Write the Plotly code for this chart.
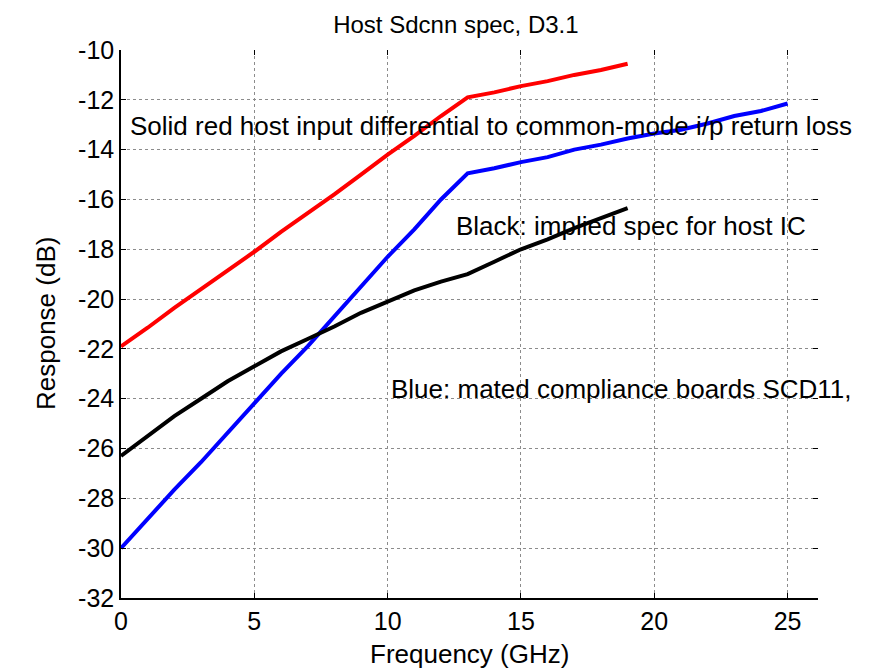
import plotly.graph_objects as go

# Frequencies (GHz)
freq_red = [0, 1, 2, 3, 4, 5, 6, 7, 8, 9, 10, 11, 12, 13, 14, 15, 16, 17, 18, 19]
red_db = [-21.9, -21.15, -20.35, -19.6, -18.85, -18.1, -17.3, -16.55, -15.8, -15.0,
          -14.2, -13.45, -12.65, -11.9, -11.7, -11.45, -11.25, -11.0, -10.8, -10.55]

freq_blue = list(range(0, 26))
blue_db = [-30.0, -28.8, -27.65, -26.55, -25.35, -24.2, -23.0, -21.9, -20.7, -19.5,
           -18.3, -17.2, -16.0, -14.95, -14.75, -14.5, -14.3, -14.0, -13.8, -13.55,
           -13.35, -13.2, -12.95, -12.65, -12.45, -12.15]

freq_black = [0, 1, 2, 3, 4, 5, 6, 7, 8, 9, 10, 11, 12, 13, 14, 15, 16, 17, 18, 19]
black_db = [-26.3, -25.5, -24.7, -24.0, -23.3, -22.7, -22.1, -21.6, -21.1, -20.55,
            -20.1, -19.65, -19.3, -19.0, -18.5, -18.0, -17.6, -17.15, -16.75, -16.35]

x_ticks = [0, 5, 10, 15, 20, 25]
x_ticktext = ["0", "5", "10", "15", "20", "25"]
y_ticks = [-32, -30, -28, -26, -24, -22, -20, -18, -16, -14, -12, -10]
y_ticktext = ["-32", "-30", "-28", "-26", "-24", "-22", "-20", "-18", "-16", "-14", "-12", "-10"]

title = "Host Sdcnn spec, D3.1"
x_label = "Frequency (GHz)"
y_label = "Response (dB)"
notes = [
    ("Solid red host input differential to common-mode i/p return loss", 0.25, -13.05),
    ("Black: implied spec for host IC", 12.5, -17.05),
    ("Blue: mated compliance boards SCD11,", 10.05, -23.6),
]

FONT = "Liberation Sans, Arial, sans-serif"
fig = go.Figure()
fig.add_trace(go.Scatter(x=freq_red, y=red_db, mode="lines",
                         line=dict(color="#ff0000", width=4), showlegend=False))
fig.add_trace(go.Scatter(x=freq_blue, y=blue_db, mode="lines",
                         line=dict(color="#0000ff", width=4), showlegend=False))
fig.add_trace(go.Scatter(x=freq_black, y=black_db, mode="lines",
                         line=dict(color="#000000", width=4), showlegend=False))

for txt, x, y in notes:
    fig.add_annotation(x=x, y=y, text=txt, showarrow=False, xanchor="left",
                       yanchor="middle", font=dict(family=FONT, size=26, color="black"))

# axis titles placed as annotations for precise positioning
fig.add_annotation(xref="paper", yref="paper", x=0.5, y=0, yshift=-56,
                   xanchor="center", yanchor="middle", text=x_label, showarrow=False,
                   font=dict(family=FONT, size=26, color="black"))
fig.add_annotation(xref="paper", yref="paper", x=0, y=0.5, xshift=-75,
                   xanchor="center", yanchor="middle", text=y_label, showarrow=False,
                   textangle=-90, font=dict(family=FONT, size=26, color="black"))

xr = [0, 26.14]
yr = [-32, -10]
axis_common = dict(ticks="inside", ticklen=5, tickwidth=1, tickcolor="black",
                   showgrid=True, gridcolor="#8c8c8c", griddash="dot", gridwidth=1,
                   zeroline=False, tickfont=dict(family=FONT, size=25, color="black"))

fig.update_layout(
    width=880, height=670,
    paper_bgcolor="white", plot_bgcolor="white",
    margin=dict(l=113, r=70, t=42, b=80),
    title=dict(text=title, x=0.509, xanchor="center", y=0.988, yanchor="top",
               font=dict(family=FONT, size=24, color="black")),
    xaxis=dict(range=xr, tickvals=x_ticks, ticktext=x_ticktext, showline=True,
               linecolor="black", linewidth=1.5, **axis_common),
    yaxis=dict(range=yr, tickvals=y_ticks, ticktext=y_ticktext, showline=True,
               linecolor="black", linewidth=1.5, **axis_common),
    xaxis2=dict(range=xr, tickvals=x_ticks, overlaying="x", side="top", showline=False,
                showticklabels=False, ticks="inside", ticklen=5, tickcolor="black",
                showgrid=False, zeroline=False),
    yaxis2=dict(range=yr, tickvals=y_ticks, overlaying="y", side="right", showline=False,
                showticklabels=False, ticks="inside", ticklen=5, tickcolor="black",
                showgrid=False, zeroline=False),
    font=dict(family=FONT, size=25, color="black"),
)
fig.add_trace(go.Scatter(x=[None], y=[None], xaxis="x2", yaxis="y2", showlegend=False,
                         hoverinfo="skip"))

fig.write_html("out.html")
